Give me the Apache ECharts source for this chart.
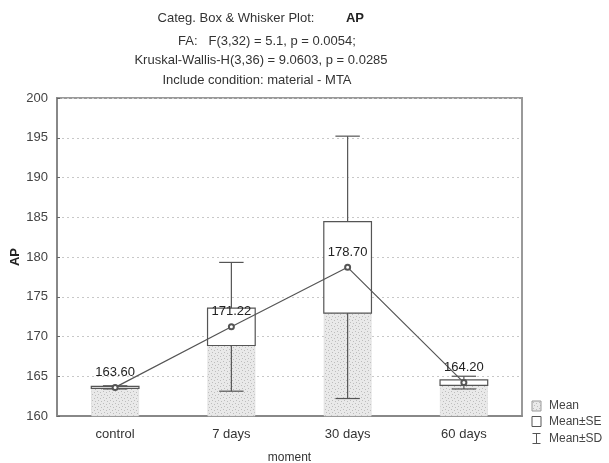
<!DOCTYPE html>
<html>
<head>
<meta charset="utf-8">
<script src="https://cdn.jsdelivr.net/npm/echarts@6/dist/echarts.min.js"></script>
<style>html,body{margin:0;padding:0;background:#fff;overflow:hidden;}#c{width:609px;height:463px;}</style>
</head>
<body>
<div id="c"></div>
<script>
// ---- data ----
var categories = ['control', '7 days', '30 days', '60 days'];
var means = [163.60, 171.22, 178.70, 164.20];
var seValues = [0.12, 2.35, 5.75, 0.35];
var sdValues = [0.2, 8.1, 16.5, 0.8];
var yTicks = { min: 160, max: 200, interval: 5 };
var titleLines = [
  'FA:   F(3,32) = 5.1, p = 0.0054;',
  'Kruskal-Wallis-H(3,36) = 9.0603, p = 0.0285',
  'Include condition: material - MTA'
];

// stipple texture
var pc = document.createElement('canvas');
pc.width = 6; pc.height = 6;
var g = pc.getContext('2d');
g.fillStyle = '#e9e9e9'; g.fillRect(0, 0, 6, 6);
g.fillStyle = '#bdbdbd';
g.fillRect(1, 1, 1, 1); g.fillRect(4, 2, 1, 1); g.fillRect(2, 4, 1, 1); g.fillRect(5, 5, 1, 1);
var stipple = { image: pc, repeat: 'repeat' };

var boxData = categories.map(function (c, i) { return [i, means[i], seValues[i], sdValues[i]]; });

var chart = echarts.init(document.getElementById('c'), null, { renderer: 'canvas', width: 609, height: 463 });
var FONT = 'Liberation Sans, Arial, sans-serif';

chart.setOption({
  animation: false,
  backgroundColor: '#fff',
  textStyle: { fontFamily: FONT },
  graphic: [
    { type: 'text', x: 236, y: 18, style: { text: 'Categ. Box & Whisker Plot:', font: '13px ' + FONT, fill: '#333', textAlign: 'center', textVerticalAlign: 'middle' } },
    { type: 'text', x: 355, y: 18, style: { text: 'AP', font: 'bold 13px ' + FONT, fill: '#222', textAlign: 'center', textVerticalAlign: 'middle' } },
    { type: 'text', x: 267, y: 41, style: { text: titleLines[0], font: '13px ' + FONT, fill: '#333', textAlign: 'center', textVerticalAlign: 'middle' } },
    { type: 'text', x: 261, y: 60, style: { text: titleLines[1], font: '13px ' + FONT, fill: '#333', textAlign: 'center', textVerticalAlign: 'middle' } },
    { type: 'text', x: 257, y: 80, style: { text: titleLines[2], font: '13px ' + FONT, fill: '#333', textAlign: 'center', textVerticalAlign: 'middle' } }
  ],
  legend: {
    orient: 'vertical',
    left: 530, top: 400,
    padding: 0,
    itemWidth: 9, itemHeight: 10, itemGap: 3.5,
    textStyle: { fontSize: 12, lineHeight: 10, color: '#444', fontFamily: FONT, padding: [0, 0, 0, 3] },
    data: [
      { name: 'Mean', icon: 'rect', itemStyle: { color: stipple, borderColor: '#999', borderWidth: 1 } },
      { name: 'Mean±SE', icon: 'rect', itemStyle: { color: '#fff', borderColor: '#555', borderWidth: 1 } },
      { name: 'Mean±SD', icon: 'path://M0,0L8,0M4,0L4,10M0,10L8,10', itemStyle: { color: 'none', borderColor: '#555', borderWidth: 1 } }
    ]
  },
  grid: { left: 57, width: 465, top: 98, height: 318, show: true, borderColor: '#999', borderWidth: 2, backgroundColor: 'transparent', containLabel: false, outerBoundsMode: 'none' },
  xAxis: {
    type: 'category',
    data: categories,
    name: 'moment',
    nameLocation: 'middle',
    nameGap: 36,
    nameMoveOverlap: false,
    nameTextStyle: { fontSize: 12, color: '#333' },
    axisLine: { lineStyle: { color: '#888', width: 2 } },
    axisTick: { show: true, inside: true, length: 3, alignWithLabel: true, lineStyle: { color: '#666' } },
    axisLabel: { fontSize: 13, color: '#333', margin: 12 },
    splitLine: { show: false }
  },
  yAxis: {
    type: 'value',
    min: yTicks.min, max: yTicks.max, interval: yTicks.interval,
    name: 'AP',
    nameLocation: 'middle',
    nameGap: 35,
    nameMoveOverlap: false,
    nameTextStyle: { fontSize: 13, fontWeight: 'bold', color: '#222' },
    axisLine: { show: true, lineStyle: { color: '#888', width: 2 } },
    axisTick: { show: true, inside: true, length: 3, lineStyle: { color: '#666' } },
    axisLabel: { fontSize: 13, color: '#444', margin: 9 },
    splitLine: { show: true, lineStyle: { color: '#c8c8c8', type: [2, 3], width: 1 } }
  },
  series: [
    {
      name: 'Mean',
      type: 'bar',
      data: means,
      barWidth: '41%',
      z: 1,
      itemStyle: { color: stipple, borderColor: '#d6d6d6', borderWidth: 0.5 }
    },
    {
      name: 'Mean±SD',
      type: 'custom',
      z: 2,
      data: boxData,
      renderItem: function (params, api) {
        var x = api.value(0), m = api.value(1), sd = api.value(3);
        var top = api.coord([x, m + sd]);
        var bot = api.coord([x, m - sd]);
        var cw = api.size([1, 0])[0] * 0.21;
        var st = { stroke: '#555', lineWidth: 1.2 };
        return {
          type: 'group',
          children: [
            { type: 'line', shape: { x1: top[0], y1: top[1], x2: bot[0], y2: bot[1] }, style: st },
            { type: 'line', shape: { x1: top[0] - cw / 2, y1: top[1], x2: top[0] + cw / 2, y2: top[1] }, style: st },
            { type: 'line', shape: { x1: bot[0] - cw / 2, y1: bot[1], x2: bot[0] + cw / 2, y2: bot[1] }, style: st }
          ]
        };
      }
    },
    {
      name: 'Mean±SE',
      type: 'custom',
      z: 3,
      data: boxData,
      renderItem: function (params, api) {
        var x = api.value(0), m = api.value(1), se = api.value(2);
        var top = api.coord([x, m + se]);
        var bot = api.coord([x, m - se]);
        var w = api.size([1, 0])[0] * 0.41;
        return {
          type: 'rect',
          shape: { x: top[0] - w / 2, y: top[1], width: w, height: Math.max(bot[1] - top[1], 1) },
          style: { fill: '#fff', stroke: '#555', lineWidth: 1.2 }
        };
      }
    },
    {
      name: 'means',
      type: 'line',
      z: 4,
      data: means,
      symbol: 'emptyCircle',
      symbolSize: 5,
      lineStyle: { color: '#555', width: 1.2 },
      itemStyle: { color: '#555', borderWidth: 1 },
      label: {
        show: true,
        position: 'top',
        distance: 5,
        fontSize: 13,
        color: '#222',
        formatter: function (p) { return p.value.toFixed(2); }
      }
    }
  ]
});
</script>
</body>
</html>
